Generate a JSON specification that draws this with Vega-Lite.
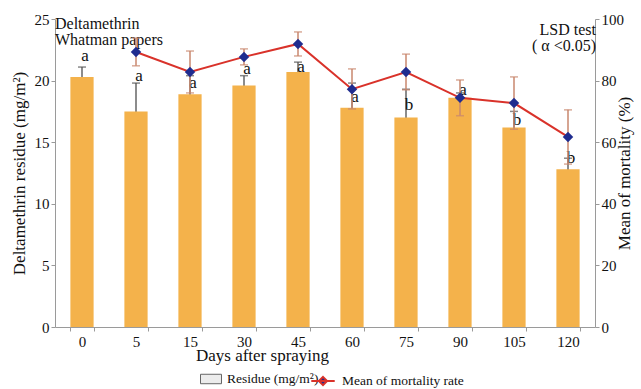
{
  "$schema": "https://vega.github.io/schema/vega-lite/v6.json",
  "width": 540,
  "height": 308,
  "autosize": {"type": "none"},
  "padding": {"left": 55, "top": 19, "right": 46, "bottom": 62},
  "background": "white",
  "config": {
    "font": "Liberation Serif",
    "view": {"stroke": null},
    "axis": {
      "grid": false,
      "domainColor": "#9a9a9a",
      "tickColor": "#9a9a9a",
      "tickSize": 4,
      "labelFont": "Liberation Serif",
      "labelFontSize": 15,
      "labelColor": "#111",
      "titleFont": "Liberation Serif",
      "titleFontSize": 17,
      "titleFontWeight": "normal",
      "titleColor": "#111"
    },
    "legend": {
      "labelFont": "Liberation Serif",
      "labelFontSize": 13.5,
      "labelColor": "#111"
    }
  },
  "datasets": {
    "residue": [
      {"day": "0", "residue": 20.3, "resUp": 21.1, "resLo": 19.5, "letter": "a", "letterY": 21.6},
      {"day": "5", "residue": 17.5, "resUp": 19.8, "resLo": 15.2, "letter": "a", "letterY": 20.0},
      {"day": "15", "residue": 18.9, "resUp": 20.4, "resLo": 17.4, "letter": "a", "letterY": 19.4},
      {"day": "30", "residue": 19.6, "resUp": 20.4, "resLo": 18.8, "letter": "a", "letterY": 20.5},
      {"day": "45", "residue": 20.7, "resUp": 21.5, "resLo": 19.9, "letter": "a", "letterY": 20.7},
      {"day": "60", "residue": 17.8, "resUp": 19.8, "resLo": 15.8, "letter": "a", "letterY": 18.3},
      {"day": "75", "residue": 17.0, "resUp": 19.3, "resLo": 14.7, "letter": "b", "letterY": 17.6},
      {"day": "90", "residue": 18.6, "resUp": 19.0, "resLo": 18.2, "letter": "a", "letterY": 18.8},
      {"day": "105", "residue": 16.2, "resUp": 17.5, "resLo": 14.9, "letter": "b", "letterY": 16.4},
      {"day": "120", "residue": 12.8, "resUp": 13.7, "resLo": 11.9, "letter": "b", "letterY": 13.3}
    ],
    "mortality": [
      {"day": "5", "mort": 89.3, "mortUp": 93.8, "mortLo": 84.8},
      {"day": "15", "mort": 82.8, "mortUp": 89.6, "mortLo": 76.0},
      {"day": "30", "mort": 87.7, "mortUp": 90.3, "mortLo": 85.1},
      {"day": "45", "mort": 91.9, "mortUp": 95.8, "mortLo": 88.0},
      {"day": "60", "mort": 77.2, "mortUp": 83.8, "mortLo": 70.8},
      {"day": "75", "mort": 82.8, "mortUp": 88.6, "mortLo": 77.0},
      {"day": "90", "mort": 74.4, "mortUp": 80.2, "mortLo": 68.6},
      {"day": "105", "mort": 72.7, "mortUp": 81.2, "mortLo": 64.2},
      {"day": "120", "mort": 61.7, "mortUp": 70.5, "mortLo": 52.9}
    ]
  },
  "encoding": {
    "x": {
      "field": "day",
      "type": "ordinal",
      "sort": null,
      "scale": {
        "domain": ["0", "5", "15", "30", "45", "60", "75", "90", "105", "120"],
        "paddingInner": 0.57,
        "paddingOuter": 0.285
      },
      "axis": {
        "title": "Days after spraying",
        "titleX": 207,
        "titleAnchor": "start",
        "titleAlign": "center",
        "labelAngle": 0,
        "labelPadding": 3,
        "titlePadding": -2,
        "tickBand": "extent",
        "tickSize": 4
      }
    }
  },
  "layer": [
    {
      "data": {"name": "residue"},
      "layer": [
        {
          "mark": {"type": "rule", "color": "#666", "strokeWidth": 1.5},
          "encoding": {
            "y": {"field": "resLo", "type": "quantitative"},
            "y2": {"field": "resUp"}
          }
        },
        {
          "mark": {"type": "tick", "color": "#555", "thickness": 1.5, "size": 8, "orient": "horizontal"},
          "encoding": {
            "y": {"field": "resUp", "type": "quantitative"}
          }
        },
        {
          "mark": {"type": "bar", "color": "#F4B24B"},
          "encoding": {
            "y": {
              "field": "residue",
              "type": "quantitative",
              "scale": {"domain": [0, 25], "nice": false},
              "axis": {
                "title": "Deltamethrin residue (mg/m²)",
                "values": [0, 5, 10, 15, 20, 25],
                "titlePadding": 6,
                "labelPadding": 2
              }
            }
          }
        },
        {
          "data": {"values": []},
          "mark": {"type": "point", "filled": true, "stroke": "#666666", "strokeWidth": 1, "opacity": 1},
          "encoding": {
            "x": {"datum": "0", "type": "ordinal"},
            "fill": {
              "datum": "Residue (mg/m²)",
              "scale": {"domain": ["Residue (mg/m²)"], "range": ["#ececec"]},
              "legend": {
                "title": null,
                "orient": "none",
                "legendX": 145,
                "legendY": 349,
                "symbolType": "M-1,-0.45H1V0.45H-1Z",
                "symbolSize": 440,
                "symbolStrokeColor": "#666666",
                "symbolStrokeWidth": 1,
                "labelOffset": 5
              }
            }
          }
        },
        {
          "mark": {"type": "text", "fontSize": 17, "baseline": "alphabetic", "dx": 3, "color": "#111"},
          "encoding": {
            "y": {"field": "letterY", "type": "quantitative"},
            "text": {"field": "letter"}
          }
        },
        {
          "data": {"values": [{}]},
          "mark": {"type": "text", "fontSize": 16, "align": "left", "baseline": "alphabetic", "dx": -27, "color": "#111", "text": ["Deltamethrin", "Whatman papers"], "lineHeight": 16},
          "encoding": {
            "x": {"datum": "0", "type": "ordinal"},
            "y": {"datum": 24.2, "type": "quantitative"}
          }
        }
      ]
    },
    {
      "data": {"name": "mortality"},
      "layer": [
        {
          "mark": {"type": "rule", "color": "#C9876E", "strokeWidth": 1.5},
          "encoding": {
            "y": {"field": "mortLo", "type": "quantitative"},
            "y2": {"field": "mortUp"}
          }
        },
        {
          "mark": {"type": "tick", "color": "#C9876E", "thickness": 1.5, "size": 8, "orient": "horizontal"},
          "encoding": {"y": {"field": "mortUp", "type": "quantitative"}}
        },
        {
          "mark": {"type": "tick", "color": "#C9876E", "thickness": 1.5, "size": 8, "orient": "horizontal"},
          "encoding": {"y": {"field": "mortLo", "type": "quantitative"}}
        },
        {
          "mark": {"type": "line", "strokeWidth": 2},
          "encoding": {
            "y": {
              "field": "mort",
              "type": "quantitative",
              "scale": {"domain": [0, 100], "nice": false},
              "axis": {
                "orient": "right",
                "title": "Mean of mortality (%)",
                "titleAngle": 270,
                "values": [0, 20, 40, 60, 80, 100],
                "titlePadding": 10,
                "labelPadding": 2
              }
            },
            "stroke": {
              "datum": "Mean of mortality rate",
              "scale": {"domain": ["Mean of mortality rate"], "range": ["#D9322A"]},
              "legend": {
                "title": null,
                "orient": "none",
                "legendX": 255,
                "legendY": 349,
                "symbolType": "M-1,0H1M0,-0.35L0.35,0L0,0.35L-0.35,0Z",
                "symbolSize": 550,
                "symbolStrokeWidth": 2,
                "labelOffset": 6,
                "encode": {
                  "symbols": {
                    "update": {
                      "fill": {"value": "#1F2C8F"}
                    }
                  }
                }
              }
            }
          }
        },
        {
          "mark": {"type": "point", "shape": "diamond", "filled": true, "size": 110, "color": "#1F2C8F", "opacity": 1},
          "encoding": {"y": {"field": "mort", "type": "quantitative"}}
        },
        {
          "data": {"values": [{}]},
          "mark": {"type": "text", "fontSize": 16, "align": "right", "baseline": "alphabetic", "dx": 28, "color": "#111", "text": ["LSD test", "( α <0.05)"], "lineHeight": 16},
          "encoding": {
            "x": {"datum": "120", "type": "ordinal"},
            "y": {"datum": 94.8, "type": "quantitative"}
          }
        }
      ]
    }
  ],
  "resolve": {"scale": {"y": "independent"}}
}
